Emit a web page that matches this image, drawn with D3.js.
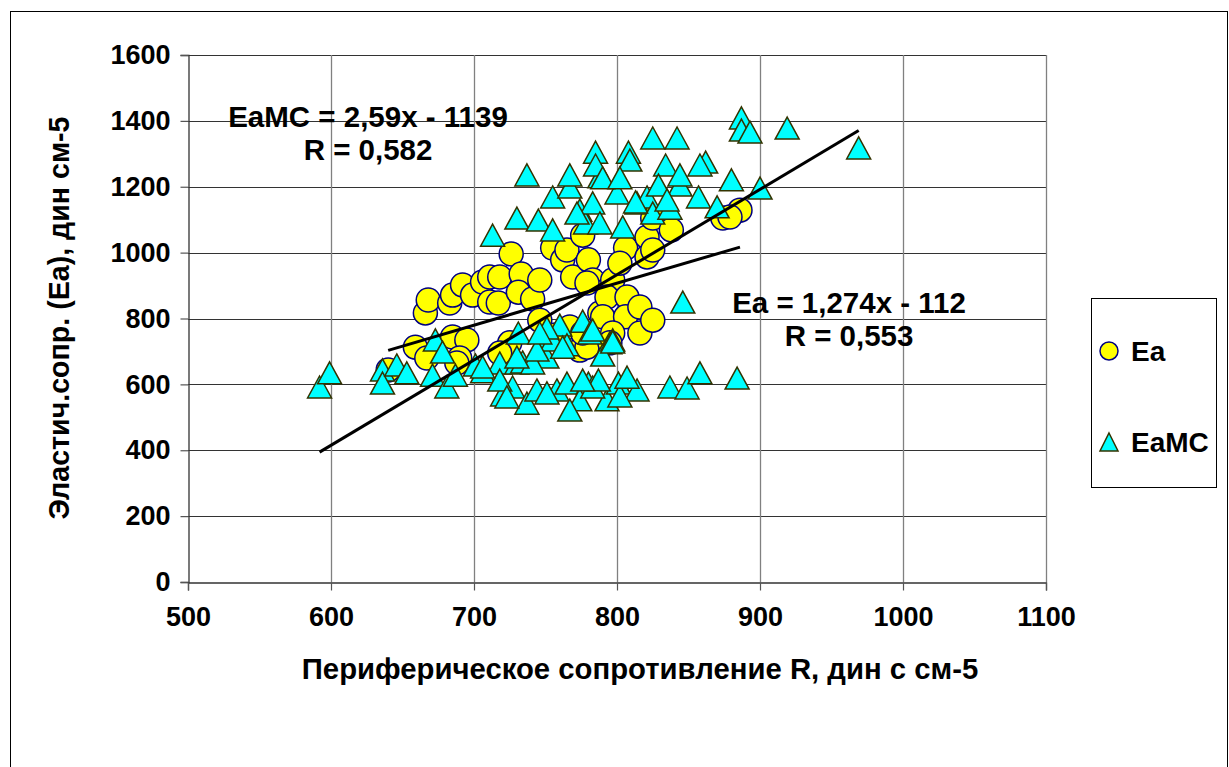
<!DOCTYPE html>
<html>
<head>
<meta charset="utf-8">
<script src="https://cdn.jsdelivr.net/npm/d3@7/dist/d3.min.js"></script>
<style>
  html, body { margin: 0; padding: 0; background: #fff; }
  svg { display: block; }
  text { font-family: "Liberation Sans", Arial, sans-serif; font-weight: bold; fill: #000; }
</style>
</head>
<body>
<svg id="chart" width="1229" height="767"></svg>
<script>
// Ea: peripheral resistance R vs. elastic resistance Ea
const eaR  = [640,659,667,666,668,683,685,692,699,685,695,690,706,711,718,711,717,726,733,731,741,746,725,718,746,755,762,765,776,769,780,783,767,774,779,776,793,797,788,793,807,806,821,821,790,806,816,816,825,797,795,825,838,825,802,874,886,879,779,757,688];
const eaV  = [644,713,680,817,856,847,871,902,871,744,735,680,911,926,926,850,847,996,935,880,859,917,726,695,795,1014,978,1008,1053,926,978,917,774,704,713,756,886,917,817,865,865,1014,1047,987,805,805,835,756,795,756,726,1105,1069,1008,968,1105,1129,1108,908,750,665];

// EaMC: peripheral resistance R vs. elastic resistance (MC estimate)
const mcR  = [592,599,636,636,646,653,673,678,671,681,687,706,701,718,720,730,727,737,744,746,751,755,758,760,776,781,751,731,734,741,765,795,790,765,780,774,767,793,801,814,802,807,837,849,858,884,846,718,723,751,783,787,776,797,744,730,706,762,783,746,797,
              713,730,745,755,755,767,767,737,774,778,783,788,800,804,814,821,825,788,785,785,808,809,825,842,834,790,802,829,844,844,862,858,857,870,837,835,880,887,887,893,919,969,900,813,772];
const mcV  = [592,635,644,604,659,635,735,698,628,592,628,638,659,665,568,665,592,543,583,713,683,735,583,780,792,756,771,756,668,665,720,726,689,604,604,553,522,553,604,583,565,622,592,589,635,619,850,613,562,574,592,613,613,735,704,683,653,713,765,756,729,
              1053,1105,1099,1069,1169,1199,1236,1236,1129,1090,1151,1090,1181,1078,1151,1169,1120,1230,1305,1266,1305,1281,1348,1348,1266,1227,1227,1205,1205,1236,1275,1266,1169,1139,1135,1160,1221,1409,1372,1366,1378,1318,1196,1154,1120];

// Linear trend lines (slope, intercept) and their labels
const eaFit  = { slope: 1.274, intercept: -112 };
const mcFit  = { slope: 2.59,  intercept: -1139 };
const eaFitText = ["Ea = 1,274x - 112", "R = 0,553"];
const mcFitText = ["EaMC = 2,59x - 1139", "R = 0,582"];

const xTicks = [500,600,700,800,900,1000,1100];
const yTicks = [0,200,400,600,800,1000,1200,1400,1600];
const seriesNames = ["Ea", "EaMC"];
const xTitle = "Периферическое сопротивление R, дин с см-5";
const yTitle = "Эластич.сопр. (Ea), дин см-5";

const svg = d3.select("#chart");
const x = d3.scaleLinear().domain([500, 1100]).range([188, 1046]);
const y = d3.scaleLinear().domain([0, 1600]).range([582, 55]);

// outer chart frame
svg.append("rect").attr("x", 10.5).attr("y", 11.5).attr("width", 1217).attr("height", 800)
  .attr("fill", "none").attr("stroke", "#000").attr("stroke-width", 1);

// gridlines
const grid = svg.append("g");
grid.selectAll("line.h").data(yTicks.filter(d => d > 0)).join("line")
  .attr("x1", x(500)).attr("x2", x(1100))
  .attr("y1", d => Math.round(y(d)) + 0.5).attr("y2", d => Math.round(y(d)) + 0.5)
  .attr("stroke", "#333").attr("stroke-width", 1.2);
grid.selectAll("line.v").data(xTicks.filter(d => d > 500)).join("line")
  .attr("y1", y(0)).attr("y2", y(1600))
  .attr("x1", d => Math.round(x(d)) + 0.5).attr("x2", d => Math.round(x(d)) + 0.5)
  .attr("stroke", "#808080").attr("stroke-width", 1.3);

// axes
const yAxis = d3.axisLeft(y).tickValues(yTicks).tickSize(8).tickPadding(10).tickFormat(d3.format("d"));
const xAxis = d3.axisBottom(x).tickValues(xTicks).tickSize(8).tickPadding(16).tickFormat(d3.format("d"));
const gy = svg.append("g").attr("transform", `translate(${Math.round(x(500)) + 0.5},0)`).call(yAxis);
const gx = svg.append("g").attr("transform", `translate(0,${Math.round(y(0)) + 0.5})`).call(xAxis);
[gx, gy].forEach(g => {
  g.select(".domain").attr("stroke", "#333").attr("stroke-width", 1.3);
  g.selectAll(".tick line").attr("stroke", "#555").attr("stroke-width", 1.2);
  g.selectAll(".tick text").attr("font-size", 27).attr("font-weight", "bold")
    .attr("font-family", '"Liberation Sans", Arial, sans-serif').attr("fill", "#000");
});

// axis titles
svg.append("text").attr("x", 640).attr("y", 679).attr("text-anchor", "middle")
  .attr("font-size", 29.3).text(xTitle);
svg.append("text").attr("transform", "translate(69,318) rotate(-90)").attr("text-anchor", "middle")
  .attr("font-size", 28.6).text(yTitle);

// marker shapes
const triPath = "M0,-11L12,11L-12,11Z";

// Ea points
svg.append("g").selectAll("circle").data(d3.zip(eaR, eaV)).join("circle")
  .attr("cx", d => x(d[0])).attr("cy", d => y(d[1])).attr("r", 12)
  .attr("fill", "#FFFF00").attr("stroke", "#000080").attr("stroke-width", 1.5);

// EaMC points
svg.append("g").selectAll("path").data(d3.zip(mcR, mcV)).join("path")
  .attr("d", triPath)
  .attr("transform", d => `translate(${x(d[0])},${y(d[1])})`)
  .attr("fill", "#00FFFF").attr("stroke", "#333300").attr("stroke-width", 1.5);

// trend lines across each series' R range
function trend(xs, fit) {
  const [a, b] = d3.extent(xs);
  return [[a, fit.slope * a + fit.intercept], [b, fit.slope * b + fit.intercept]];
}
const line = d3.line().x(d => x(d[0])).y(d => y(d[1]));
svg.append("path").attr("d", line(trend(eaR, eaFit))).attr("stroke", "#000").attr("stroke-width", 3).attr("fill", "none");
svg.append("path").attr("d", line(trend(mcR, mcFit))).attr("stroke", "#000").attr("stroke-width", 3).attr("fill", "none");

// trend line labels
function fitLabel(lines, cx, cy) {
  svg.append("text").attr("x", cx).attr("y", cy).attr("text-anchor", "middle")
    .attr("font-size", 29.5).text(lines[0]);
  svg.append("text").attr("x", cx).attr("y", cy + 33).attr("text-anchor", "middle")
    .attr("font-size", 29.5).text(lines[1]);
}
fitLabel(mcFitText, 368, 127);
fitLabel(eaFitText, 849, 313);

// legend
const lg = svg.append("g");
lg.append("rect").attr("x", 1091.5).attr("y", 298.5).attr("width", 125).attr("height", 189)
  .attr("fill", "#fff").attr("stroke", "#000").attr("stroke-width", 1);
lg.append("circle").attr("cx", 1109).attr("cy", 351).attr("r", 9)
  .attr("fill", "#FFFF00").attr("stroke", "#000080").attr("stroke-width", 1.5);
lg.append("path").attr("d", "M0,-9L9,9L-9,9Z").attr("transform", "translate(1109,442)")
  .attr("fill", "#00FFFF").attr("stroke", "#333300").attr("stroke-width", 1.5);
lg.append("text").attr("x", 1131).attr("y", 361).attr("font-size", 28).text(seriesNames[0]);
lg.append("text").attr("x", 1131).attr("y", 452).attr("font-size", 28).text(seriesNames[1]);
</script>
</body>
</html>
